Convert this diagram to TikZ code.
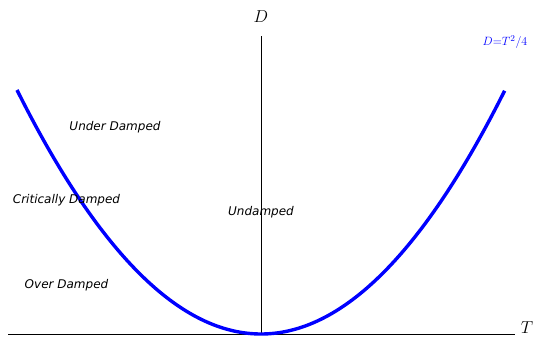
\documentclass[tikz,border=0pt]{standalone}
\usepackage{fontspec}
\newfontfamily\djv{DejaVu Sans}
\tikzset{
  region/.style={font=\djv\itshape\fontsize{12}{14}\selectfont, inner sep=0pt},
  axis/.style={draw=black, line width=0.8pt},
  curve/.style={draw=blue, line width=3.4pt},
  axlabel/.style={font=\fontsize{16}{18}\selectfont, inner sep=0pt}
}
\begin{document}
\begin{tikzpicture}[x=1pt,y=-1pt]
\useasboundingbox (0,0) rectangle (533,337);
\coordinate (xl) at (8,334);
\coordinate (xr) at (515,334);
\coordinate (yb) at (261,334);
\coordinate (yt) at (261,36);
\draw[axis] (xl) -- (xr);
\draw[axis] (yb) -- (yt);
\draw[curve] plot[domain=-1:1, samples=100, smooth] ({261+244*\x},{334-244*\x*\x});
\node[axlabel] (D) at (261,17) {$D$};
\node[axlabel] (T) at (527,328) {$T$};
\node[font=\fontsize{12.5}{14}\selectfont, text=blue, inner sep=0pt] (eq) at (505,42) {$D{=}T^2/4$};
\node[region] (ud) at (115,127) {Under Damped};
\node[region] (cd) at (66.5,200) {Critically Damped};
\node[region] (un) at (261,212) {Undamped};
\node[region] (od) at (66.5,285) {Over Damped};
\end{tikzpicture}
\end{document}
